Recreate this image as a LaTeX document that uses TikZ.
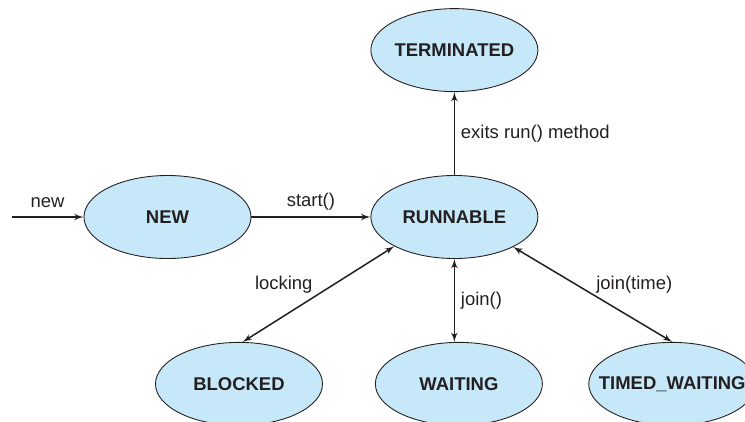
\documentclass[tikz,border=0pt]{standalone}
\usepackage{fontspec}
\setmainfont{Liberation Sans}
\usepackage{tikz}
\usetikzlibrary{positioning}
\usetikzlibrary{arrows,arrows.meta}
\usetikzlibrary{shapes,shapes.geometric}
\definecolor{statefill}{RGB}{199,232,248}
\definecolor{ink}{RGB}{35,31,32}
\tikzstyle{state} = [draw=ink, ellipse, fill=statefill, line width=0.5pt, inner sep=0pt, minimum width=3.34cm, minimum height=1.66cm, font=\fontsize{10.5}{12}\selectfont\bfseries, text=ink]
\tikzstyle{trans} = [draw=ink, line width=0.85pt]
\tikzstyle{coord} = [coordinate]
\begin{document}
\begin{tikzpicture}[auto, >=latex', font=\fontsize{10.5}{12}\selectfont]

	\useasboundingbox (-3.35,-4.08) rectangle (11.55,4.34);

	\node [state] (new) {NEW};
	\node [state, node distance=2.38cm, right=of new] (runnable) {RUNNABLE};
	\node [state, node distance=1.66cm, above=of runnable] (terminated) {\makebox[0pt]{TERMINATED}};
	\node [state, node distance=1.66cm, below=of runnable, xshift=0.09cm] (waiting) {WAITING};
	\node [state, node distance=1.04cm, left=of waiting] (blocked) {BLOCKED};
	\node [state, node distance=0.91cm, right=of waiting] (timedwaiting) {\makebox[0pt]{TIMED\_WAITING}};
	\node [coord, node distance=1.44cm, left=of new.west] (eingang) {};

	\draw [trans, ->] (eingang) -- node [above, yshift=0.06cm, text=ink] {new} (new);
	\draw [trans, ->] (new) -- node [above, text=ink] {start()} (runnable);
	\draw [trans, ->] (runnable) -- node [right, text=ink] {exits run() method} (terminated);
	\draw [trans, <->] (runnable.206) -- node [above left, pos=0.45, xshift=-0.14cm, yshift=-0.22cm, text=ink] {locking} (blocked.85);
	\draw [trans, <->] (runnable.south) -- node [right, text=ink] {join()} (runnable.south |- waiting.north);
	\draw [trans, <->] (runnable.333) -- node [above right, pos=0.45, xshift=0.1cm, yshift=-0.2cm, text=ink] {join(time)} (timedwaiting.north);
\end{tikzpicture}
\end{document}
